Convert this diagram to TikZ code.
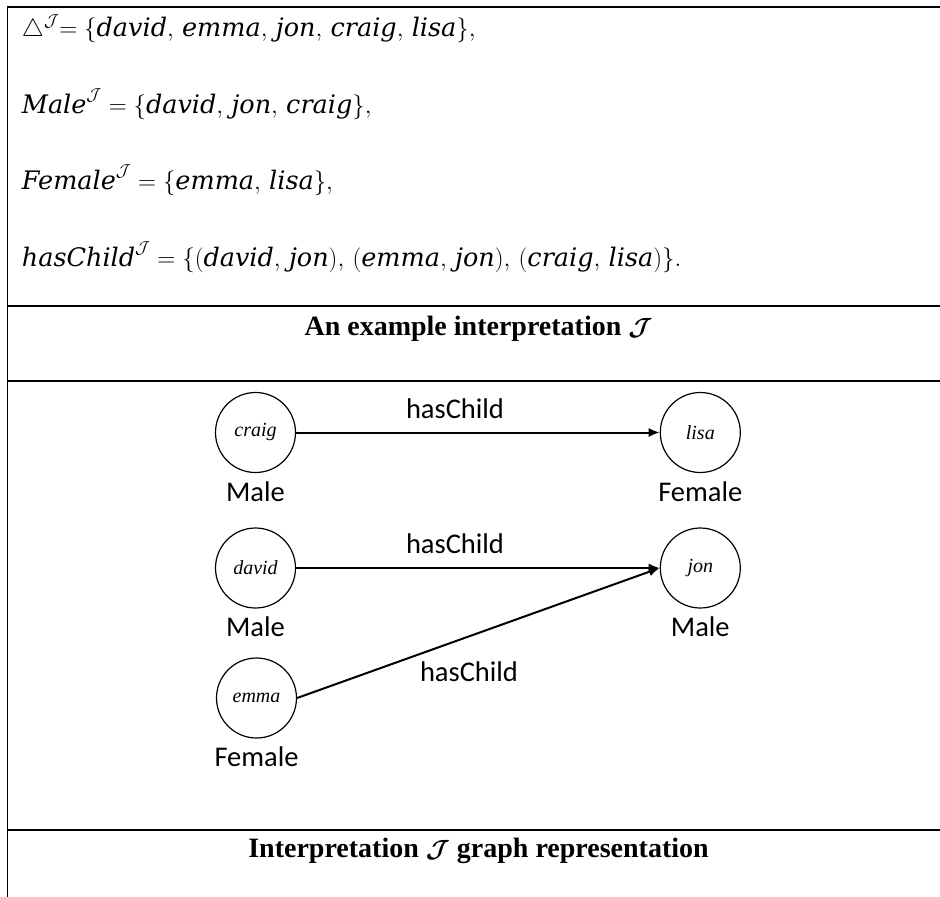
\documentclass[tikz,border=0pt]{standalone}
\usepackage{fontspec}
\setmainfont{Liberation Serif}
\newfontfamily\labelfont{Carlito}
\newfontfamily\wordfont{DejaVu Serif}
\newcommand\iword[1]{\mbox{\wordfont\itshape #1}}
\newcommand\sepc{,\,}
\usetikzlibrary{arrows.meta}
\begin{document}
\begin{tikzpicture}[x=1pt,y=-1pt,
  rule/.style={line width=1.7pt},
  person/.style={circle,draw,line width=1.2pt,minimum size=80pt,inner sep=0pt,
    font=\fontsize{20}{20}\selectfont\itshape},
  cls/.style={anchor=base,inner sep=0pt,font=\labelfont\fontsize{28.5}{28.5}\selectfont},
  rel/.style={line width=2pt,-{Latex[length=11pt,width=9pt]}},
  defn/.style={anchor=base west,inner sep=0pt,font=\fontsize{25.5}{25.5}\selectfont},
  caption/.style={anchor=base,inner sep=0pt,font=\fontsize{28}{28}\selectfont\bfseries}]
\useasboundingbox (0,0) rectangle (940,897);

% table rules
\draw[rule] (7.5,897) -- (7.5,7) -- (940,7);
\draw[rule] (7.5,305.7) -- (940,305.7);
\draw[rule] (7.5,380.7) -- (940,380.7);
\draw[rule] (7.5,830) -- (940,830);

% definition of the interpretation
\node[defn] (dom) at (21.7,36)
  {$\triangle^{\mathcal{J}}\mathord{=}\;\{\iword{david}\sepc\iword{emma}\sepc\iword{jon}\sepc\iword{craig}\sepc\iword{lisa}\},$};
\node[defn] (male) at (21.7,113)
  {$\iword{Male}^{\mathcal{J}} = \{\iword{david}\sepc\iword{jon}\sepc\iword{craig}\},$};
\node[defn] (female) at (21.7,189)
  {$\iword{Female}^{\mathcal{J}} = \{\iword{emma}\sepc\iword{lisa}\},$};
\node[defn] (haschild) at (21.7,266)
  {$\iword{hasChild}^{\mathcal{J}} = \{(\iword{david}\sepc\iword{jon})\sepc(\iword{emma}\sepc\iword{jon})\sepc(\iword{craig}\sepc\iword{lisa})\}.$};

\node[caption] (cap1) at (478.5,335) {An example interpretation {\boldmath$\mathcal{J}$}};
\node[caption] (cap2) at (478.5,857) {Interpretation {\boldmath$\mathcal{J}$} graph representation};

% individuals
\node[person] (craig) at (255.5,432.5) {craig};
\node[person] (lisa)  at (700.3,432.5) {lisa};
\node[person] (david) at (255.5,568) {david};
\node[person] (jon)   at (700.3,568) {jon};
\node[person] (emma)  at (256.5,698) {emma};

% concept memberships
\node[cls] (craigc) at (255.5,501) {Male};
\node[cls] (lisac)  at (700.3,501) {Female};
\node[cls] (davidc) at (255.5,636.5) {Male};
\node[cls] (jonc)   at (700.3,636.5) {Male};
\node[cls] (emmac)  at (256.5,766) {Female};

% role assertions
\draw[rel] (craig.east) -- (lisa.west);
\draw[rel] (david.east) -- (jon.west);
\draw[rel] (emma.east) -- (jon.west);
\node[cls] (r1) at (455,418) {hasChild};
\node[cls] (r2) at (455,553.5) {hasChild};
\node[cls] (r3) at (469,681.5) {hasChild};
\end{tikzpicture}
\end{document}
